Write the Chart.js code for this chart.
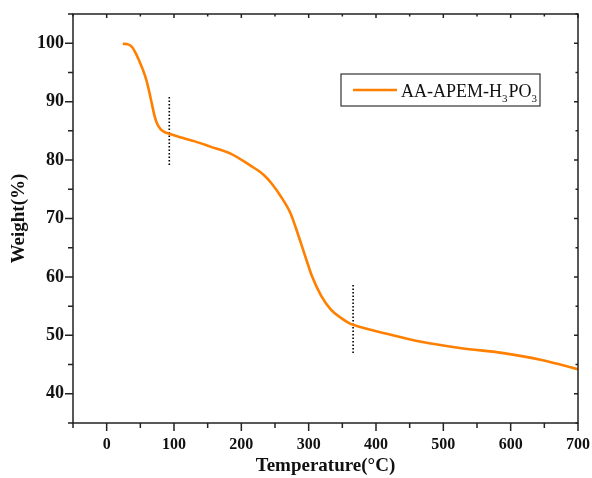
<!DOCTYPE html>
<html><head><meta charset="utf-8">
<script src="https://cdn.jsdelivr.net/npm/chart.js@4/dist/chart.umd.min.js"></script>
<style>html,body{margin:0;padding:0;background:#fff;overflow:hidden}</style>
</head><body>
<canvas id="c" width="592" height="478"></canvas>
<script>
// ---- data ----
const temperature = [24, 32, 38, 44, 49, 54, 59, 63, 67, 71, 75, 80, 86, 93, 109, 131, 154, 184, 213, 233, 245, 258, 273, 285, 295, 305, 318, 333, 349, 360, 366, 422, 467, 527, 587, 646, 700];
const weight      = [99.9, 99.8, 99.3, 98.1, 96.8, 95.4, 93.7, 91.8, 89.7, 87.6, 86.2, 85.3, 84.8, 84.5, 83.9, 83.2, 82.3, 81.1, 79.1, 77.5, 76.0, 73.9, 70.9, 67.0, 63.5, 60.1, 56.9, 54.4, 52.9, 52.1, 51.8, 50.1, 48.9, 47.8, 47.0, 45.8, 44.2];
const seriesLabel = 'AA-APEM-H3PO3';
const xTickLabels = [0, 100, 200, 300, 400, 500, 600, 700];
const yTickLabels = [40, 50, 60, 70, 80, 90, 100];
const marker1T = [93, 93];
const marker1W = [90.8, 78.9];
const marker2T = [366, 366];
const marker2W = [58.6, 46.7];
const xRange = [-50, 700];
const yRange = [35, 105];

const seriesPoints = temperature.map((t, i) => ({x: t, y: weight[i]}));
const m1 = marker1T.map((t, i) => ({x: t, y: marker1W[i]}));
const m2 = marker2T.map((t, i) => ({x: t, y: marker2W[i]}));

const SERIF = '"Liberation Serif", "Times New Roman", serif';

const framePlugin = {
  id: 'frame',
  afterDraw(chart) {
    const ctx = chart.ctx, a = chart.chartArea;
    const xs = chart.scales.x, ys = chart.scales.y;
    ctx.save();
    ctx.strokeStyle = '#222';
    ctx.lineWidth = 1.5;
    ctx.strokeRect(a.left, a.top, a.right - a.left, a.bottom - a.top);
    ctx.beginPath();
    for (let v = xRange[0]; v <= xRange[1]; v += 50) {
      const px = xs.getPixelForValue(v);
      const major = v % 100 === 0;
      ctx.moveTo(px, a.bottom); ctx.lineTo(px, a.bottom + (major ? 8 : 5));
      ctx.moveTo(px, a.top); ctx.lineTo(px, a.top + (major ? 4 : 2.5));
    }
    for (let v = yRange[0]; v <= yRange[1]; v += 5) {
      const py = ys.getPixelForValue(v);
      const major = v % 10 === 0;
      ctx.moveTo(a.left, py); ctx.lineTo(a.left - (major ? 8 : 5), py);
      ctx.moveTo(a.right, py); ctx.lineTo(a.right - (major ? 4 : 2.5), py);
    }
    ctx.stroke();
    ctx.restore();
  }
};

const legendPlugin = {
  id: 'customLegend',
  afterDraw(chart) {
    const ctx = chart.ctx;
    const ds = chart.data.datasets[0];
    const bx = 341, by = 74, bw = 199, bh = 32;
    ctx.save();
    ctx.strokeStyle = '#333';
    ctx.lineWidth = 1.2;
    ctx.strokeRect(bx, by, bw, bh);
    ctx.strokeStyle = ds.borderColor;
    ctx.lineWidth = 2.5;
    ctx.beginPath();
    ctx.moveTo(bx + 12, by + 16); ctx.lineTo(bx + 56, by + 16);
    ctx.stroke();
    // text with subscripts
    const parts = ds.label.match(/[0-9]+|[^0-9]+/g);
    let x = bx + 60;
    const base = by + 23;
    ctx.fillStyle = '#111';
    ctx.textBaseline = 'alphabetic';
    parts.forEach(p => {
      if (/^[0-9]+$/.test(p)) {
        ctx.font = '11px ' + SERIF;
        ctx.fillText(p, x, base + 5);
        x += ctx.measureText(p).width + 1;
      } else {
        ctx.font = '18px ' + SERIF;
        ctx.fillText(p, x, base);
        x += ctx.measureText(p).width;
      }
    });
    ctx.restore();
  }
};

const noPad = s => { s.paddingLeft = 0; s.paddingRight = 0; s.paddingTop = 0; s.paddingBottom = 0; };

new Chart(document.getElementById('c'), {
  type: 'line',
  data: {
    datasets: [
      { label: seriesLabel, data: seriesPoints, borderColor: '#FF8000', borderWidth: 2.6,
        pointRadius: 0, cubicInterpolationMode: 'monotone', fill: false },
      { label: 'm1', data: m1, borderColor: '#000', borderWidth: 1.6, borderDash: [1.5, 2],
        pointRadius: 0, fill: false },
      { label: 'm2', data: m2, borderColor: '#000', borderWidth: 1.6, borderDash: [1.5, 2],
        pointRadius: 0, fill: false }
    ]
  },
  options: {
    responsive: false,
    devicePixelRatio: 1,
    animation: false,
    layout: { padding: { left: 0, top: 14, right: 14, bottom: 0 } },
    plugins: { legend: { display: false }, tooltip: { enabled: false } },
    scales: {
      x: {
        type: 'linear', min: xRange[0], max: xRange[1],
        grid: { display: false, drawTicks: false },
        border: { display: false },
        ticks: {
          stepSize: 50, autoSkip: false, maxRotation: 0, padding: 12,
          color: '#111', font: { family: SERIF, size: 16, weight: 'bold' },
          callback: v => xTickLabels.includes(v) ? String(v) : ''
        },
        title: { display: true, text: 'Temperature(°C)', color: '#111',
          font: { family: SERIF, size: 19, weight: 'bold' }, padding: { top: 0, bottom: 1 } },
        afterFit: s => { s.height = 55; noPad(s); }
      },
      y: {
        type: 'linear', min: yRange[0], max: yRange[1],
        grid: { display: false, drawTicks: false },
        border: { display: false },
        ticks: {
          stepSize: 5, autoSkip: false, padding: 9,
          color: '#111', font: { family: SERIF, size: 18, weight: 'bold' },
          callback: v => yTickLabels.includes(v) ? String(v) : ''
        },
        title: { display: true, text: 'Weight(%)', color: '#111',
          font: { family: SERIF, size: 19, weight: 'bold' }, padding: { top: 8, bottom: 0 } },
        afterFit: s => { s.width = 73; noPad(s); }
      }
    }
  },
  plugins: [framePlugin, legendPlugin]
});
</script>
</body></html>
